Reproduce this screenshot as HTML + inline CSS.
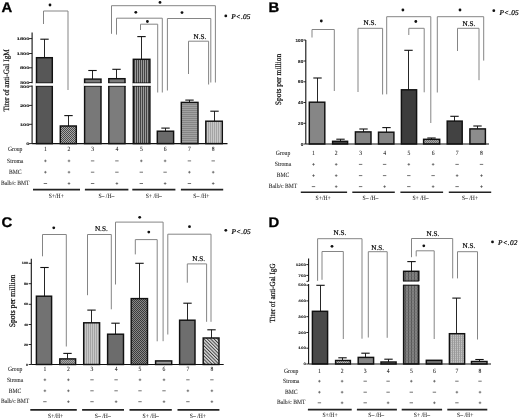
<!DOCTYPE html>
<html><head><meta charset="utf-8"><style>
html,body{margin:0;padding:0;background:#fff;}
body{width:520px;height:419px;overflow:hidden;}
svg{display:block;filter:grayscale(1) blur(0.45px);text-rendering:geometricPrecision;}

</style></head><body>
<svg width="520" height="419" viewBox="0 0 520 419">
<rect width="520" height="419" fill="#fff"/>

<defs>
 <pattern id="chk" width="2" height="2" patternUnits="userSpaceOnUse">
  <rect width="2" height="2" fill="#a8a8a8"/><rect width="1" height="1" fill="#4a4a4a"/><rect x="1" y="1" width="1" height="1" fill="#4a4a4a"/>
 </pattern>
 <pattern id="chkL" width="2" height="2" patternUnits="userSpaceOnUse">
  <rect width="2" height="2" fill="#a6a6a6"/><rect width="1" height="1" fill="#707070"/><rect x="1" y="1" width="1" height="1" fill="#707070"/>
 </pattern>
 <pattern id="chkM" width="2" height="2" patternUnits="userSpaceOnUse">
  <rect width="2" height="2" fill="#a8a8a8"/><rect width="1" height="1" fill="#707070"/><rect x="1" y="1" width="1" height="1" fill="#707070"/>
 </pattern>
 <pattern id="chkL2" width="2" height="2" patternUnits="userSpaceOnUse">
  <rect width="2" height="2" fill="#bcbcbc"/><rect width="1" height="1" fill="#7a7a7a"/><rect x="1" y="1" width="1" height="1" fill="#7a7a7a"/>
 </pattern>
 <pattern id="chkD" width="2" height="2" patternUnits="userSpaceOnUse">
  <rect width="2" height="2" fill="#888"/><rect width="1" height="1" fill="#3a3a3a"/><rect x="1" y="1" width="1" height="1" fill="#3a3a3a"/>
 </pattern>
 <pattern id="vstrD" width="2" height="2" patternUnits="userSpaceOnUse">
  <rect width="2" height="2" fill="#9a9a9a"/><rect width="1" height="2" fill="#444"/>
 </pattern>
 <pattern id="vstrL" width="2" height="2" patternUnits="userSpaceOnUse">
  <rect width="2" height="2" fill="#c8c8c8"/><rect width="1" height="2" fill="#a4a4a4"/>
 </pattern>
 <pattern id="hstr" width="2" height="2" patternUnits="userSpaceOnUse">
  <rect width="2" height="2" fill="#a2a2a2"/><rect width="2" height="1" fill="#868686"/>
 </pattern>
 <pattern id="diag" width="2.4" height="2.4" patternUnits="userSpaceOnUse" patternTransform="rotate(-45)">
  <rect width="2.4" height="2.4" fill="#dedede"/><rect width="1.0" height="2.4" fill="#404040"/>
 </pattern>
 <pattern id="gridD" width="3" height="3" patternUnits="userSpaceOnUse">
  <rect width="3" height="3" fill="#808080"/><rect width="1" height="3" fill="#585858"/><rect width="3" height="0.5" fill="#6e6e6e"/>
 </pattern>
 <pattern id="gridL" width="2" height="2" patternUnits="userSpaceOnUse">
  <rect width="2" height="2" fill="#c2c2c2"/><rect width="1" height="2" fill="#9a9a9a"/><rect width="2" height="0.5" fill="#9a9a9a"/>
 </pattern>
</defs>

<text x="0" y="0" font-family="Liberation Sans" font-size="14.0" font-weight="bold" fill="#000" stroke="#000" stroke-width="0.3" transform="translate(1.6,11.6) scale(1.06,1)">A</text>
<polyline points="43.5,24 43.5,11 68,11 68,90" fill="none" stroke="#858585" stroke-width="1.0"/>
<circle cx="50" cy="5" r="1.4" fill="#111"/>
<polyline points="111.5,33.8 111.5,5.7 215.4,5.7 215.4,82.5" fill="none" stroke="#858585" stroke-width="1.0"/>
<circle cx="160" cy="2.4" r="1.4" fill="#111"/>
<polyline points="116.5,34.6 116.5,18.2 162.3,18.2 162.3,92.5" fill="none" stroke="#858585" stroke-width="1.0"/>
<circle cx="135.8" cy="12.3" r="1.4" fill="#111"/>
<polyline points="140.5,30 140.5,24.2 157.7,24.2 157.7,92.5" fill="none" stroke="#858585" stroke-width="1.0"/>
<circle cx="147.4" cy="21.5" r="1.4" fill="#111"/>
<polyline points="167.4,90.5 167.4,18.5 210.8,18.5 210.8,82.5" fill="none" stroke="#858585" stroke-width="1.0"/>
<circle cx="182" cy="12.6" r="1.4" fill="#111"/>
<polyline points="188.5,74 188.5,41.2 208.6,41.2 208.6,84.5" fill="none" stroke="#858585" stroke-width="1.0"/>
<text x="200" y="38.8" font-family="Liberation Serif" font-size="7.2" text-anchor="middle" font-weight="normal" font-style="normal" fill="#000" stroke="#000" stroke-width="0.2" >N.S.</text>
<circle cx="225.8" cy="15.9" r="1.4" fill="#111"/>
<text x="231.2" y="19.4" font-family="Liberation Serif" font-size="7.3" text-anchor="start" font-weight="normal" font-style="italic" fill="#000" stroke="#000" stroke-width="0.2" letter-spacing="0.2">P&lt;.05</text>
<line x1="44.5" y1="39.2" x2="44.5" y2="57.7" stroke="#1a1a1a" stroke-width="0.95"/>
<line x1="40.3" y1="39.2" x2="48.7" y2="39.2" stroke="#111" stroke-width="1.1"/>
<rect x="36.5" y="57.7" width="15.799999999999997" height="85.89999999999999" fill="#575757" stroke="#111" stroke-width="1.45"/>
<line x1="68.5" y1="115.6" x2="68.5" y2="126.0" stroke="#1a1a1a" stroke-width="0.95"/>
<line x1="64.3" y1="115.6" x2="72.7" y2="115.6" stroke="#111" stroke-width="1.1"/>
<rect x="60.3" y="126.0" width="16.0" height="17.599999999999994" fill="url(#chk)" stroke="#111" stroke-width="1.45"/>
<line x1="92.5" y1="70.5" x2="92.5" y2="79.1" stroke="#1a1a1a" stroke-width="0.95"/>
<line x1="88.3" y1="70.5" x2="96.7" y2="70.5" stroke="#111" stroke-width="1.1"/>
<rect x="84.6" y="79.1" width="16.400000000000006" height="64.5" fill="#787878" stroke="#111" stroke-width="1.45"/>
<line x1="116.5" y1="69.3" x2="116.5" y2="78.7" stroke="#1a1a1a" stroke-width="0.95"/>
<line x1="112.3" y1="69.3" x2="120.7" y2="69.3" stroke="#111" stroke-width="1.1"/>
<rect x="108.8" y="78.7" width="16.200000000000003" height="64.89999999999999" fill="#7c7c7c" stroke="#111" stroke-width="1.45"/>
<line x1="141.5" y1="36.6" x2="141.5" y2="59.3" stroke="#1a1a1a" stroke-width="0.95"/>
<line x1="137.3" y1="36.6" x2="145.7" y2="36.6" stroke="#111" stroke-width="1.1"/>
<rect x="133.3" y="59.3" width="16.599999999999994" height="84.3" fill="url(#vstrD)" stroke="#111" stroke-width="1.45"/>
<line x1="165.5" y1="128.1" x2="165.5" y2="131.2" stroke="#1a1a1a" stroke-width="0.95"/>
<line x1="161.3" y1="128.1" x2="169.7" y2="128.1" stroke="#111" stroke-width="1.1"/>
<rect x="157.3" y="131.2" width="16.299999999999983" height="12.400000000000006" fill="#6a6a6a" stroke="#111" stroke-width="1.45"/>
<line x1="189.5" y1="100.1" x2="189.5" y2="102.4" stroke="#1a1a1a" stroke-width="0.95"/>
<line x1="185.3" y1="100.1" x2="193.7" y2="100.1" stroke="#111" stroke-width="1.1"/>
<rect x="181.3" y="102.4" width="16.69999999999999" height="41.19999999999999" fill="url(#hstr)" stroke="#111" stroke-width="1.45"/>
<line x1="214.5" y1="111.2" x2="214.5" y2="121.2" stroke="#1a1a1a" stroke-width="0.95"/>
<line x1="210.3" y1="111.2" x2="218.7" y2="111.2" stroke="#111" stroke-width="1.1"/>
<rect x="205.8" y="121.2" width="16.5" height="22.39999999999999" fill="url(#vstrL)" stroke="#111" stroke-width="1.45"/>
<rect x="35.5" y="83.0" width="17.799999999999997" height="3.0" fill="#fff"/>
<line x1="35.9" y1="82.8" x2="52.9" y2="82.8" stroke="#111" stroke-width="0.8"/>
<line x1="35.9" y1="86.3" x2="52.9" y2="86.3" stroke="#111" stroke-width="0.8"/>
<rect x="83.6" y="83.0" width="18.400000000000006" height="3.0" fill="#fff"/>
<line x1="84.0" y1="82.8" x2="101.6" y2="82.8" stroke="#111" stroke-width="0.8"/>
<line x1="84.0" y1="86.3" x2="101.6" y2="86.3" stroke="#111" stroke-width="0.8"/>
<rect x="107.8" y="83.0" width="18.200000000000003" height="3.0" fill="#fff"/>
<line x1="108.2" y1="82.8" x2="125.6" y2="82.8" stroke="#111" stroke-width="0.8"/>
<line x1="108.2" y1="86.3" x2="125.6" y2="86.3" stroke="#111" stroke-width="0.8"/>
<rect x="132.3" y="83.0" width="18.599999999999994" height="3.0" fill="#fff"/>
<line x1="132.70000000000002" y1="82.8" x2="150.5" y2="82.8" stroke="#111" stroke-width="0.8"/>
<line x1="132.70000000000002" y1="86.3" x2="150.5" y2="86.3" stroke="#111" stroke-width="0.8"/>
<line x1="32.1" y1="32.6" x2="32.1" y2="83.2" stroke="#111" stroke-width="1.1"/>
<line x1="32.1" y1="85.6" x2="32.1" y2="143.6" stroke="#111" stroke-width="1.1"/>
<line x1="29.1" y1="38.6" x2="32.1" y2="38.6" stroke="#111" stroke-width="0.9"/>
<text x="0" y="0" font-family="Liberation Sans" font-size="4.6" font-weight="bold" text-anchor="end" fill="#222" stroke="#222" stroke-width="0.12" transform="translate(29.50,39.92) scale(1.25,0.8)">1800</text>
<line x1="29.1" y1="53.5" x2="32.1" y2="53.5" stroke="#111" stroke-width="0.9"/>
<text x="0" y="0" font-family="Liberation Sans" font-size="4.6" font-weight="bold" text-anchor="end" fill="#222" stroke="#222" stroke-width="0.12" transform="translate(29.50,54.82) scale(1.25,0.8)">1300</text>
<line x1="29.1" y1="67.8" x2="32.1" y2="67.8" stroke="#111" stroke-width="0.9"/>
<text x="0" y="0" font-family="Liberation Sans" font-size="4.6" font-weight="bold" text-anchor="end" fill="#222" stroke="#222" stroke-width="0.12" transform="translate(29.50,69.12) scale(1.25,0.8)">800</text>
<line x1="29.1" y1="82.5" x2="32.1" y2="82.5" stroke="#111" stroke-width="0.9"/>
<text x="0" y="0" font-family="Liberation Sans" font-size="4.6" font-weight="bold" text-anchor="end" fill="#222" stroke="#222" stroke-width="0.12" transform="translate(29.50,83.82) scale(1.25,0.8)">300</text>
<line x1="29.1" y1="86.2" x2="32.1" y2="86.2" stroke="#111" stroke-width="0.9"/>
<text x="0" y="0" font-family="Liberation Sans" font-size="4.6" font-weight="bold" text-anchor="end" fill="#222" stroke="#222" stroke-width="0.12" transform="translate(29.50,87.52) scale(1.25,0.8)">300</text>
<line x1="29.1" y1="105.4" x2="32.1" y2="105.4" stroke="#111" stroke-width="0.9"/>
<text x="0" y="0" font-family="Liberation Sans" font-size="4.6" font-weight="bold" text-anchor="end" fill="#222" stroke="#222" stroke-width="0.12" transform="translate(29.50,106.72) scale(1.25,0.8)">200</text>
<line x1="29.1" y1="124.3" x2="32.1" y2="124.3" stroke="#111" stroke-width="0.9"/>
<text x="0" y="0" font-family="Liberation Sans" font-size="4.6" font-weight="bold" text-anchor="end" fill="#222" stroke="#222" stroke-width="0.12" transform="translate(29.50,125.62) scale(1.25,0.8)">100</text>
<line x1="29.1" y1="143.6" x2="32.1" y2="143.6" stroke="#111" stroke-width="0.9"/>
<text x="0" y="0" font-family="Liberation Sans" font-size="4.6" font-weight="bold" text-anchor="end" fill="#222" stroke="#222" stroke-width="0.12" transform="translate(29.50,144.92) scale(1.25,0.8)">0</text>
<line x1="32.1" y1="143.6" x2="227.5" y2="143.6" stroke="#111" stroke-width="1.2"/>
<text x="0" y="0" font-family="Liberation Serif" font-size="7.35" text-anchor="middle" fill="#111" stroke="#111" stroke-width="0.2" transform="translate(8.8,80.3) rotate(-90) scale(1,1.1)">Titer of anti-Gal IgM</text>
<text x="0" y="0" transform="translate(15.2,151.29999999999998) scale(0.87,1)" font-family="Liberation Serif" font-size="6.5" text-anchor="middle" font-weight="normal" font-style="normal" fill="#1a1a1a" stroke="#1a1a1a" stroke-width="0.06" >Group</text>
<text x="0" y="0" transform="translate(15.2,162.6) scale(0.87,1)" font-family="Liberation Serif" font-size="6.5" text-anchor="middle" font-weight="normal" font-style="normal" fill="#1a1a1a" stroke="#1a1a1a" stroke-width="0.06" >Stroma</text>
<text x="0" y="0" transform="translate(15.2,173.79999999999998) scale(0.87,1)" font-family="Liberation Serif" font-size="6.5" text-anchor="middle" font-weight="normal" font-style="normal" fill="#1a1a1a" stroke="#1a1a1a" stroke-width="0.06" >BMC</text>
<text x="0" y="0" transform="translate(15.2,184.7) scale(0.87,1)" font-family="Liberation Serif" font-size="6.5" text-anchor="middle" font-weight="normal" font-style="normal" fill="#1a1a1a" stroke="#1a1a1a" stroke-width="0.06" >Balb/c BMT</text>
<text x="0" y="0" transform="translate(45.4,151.29999999999998) scale(0.87,1)" font-family="Liberation Serif" font-size="6.5" text-anchor="middle" font-weight="normal" font-style="normal" fill="#1a1a1a" stroke="#1a1a1a" stroke-width="0.06" >1</text>
<text x="0" y="0" transform="translate(69.0,151.29999999999998) scale(0.87,1)" font-family="Liberation Serif" font-size="6.5" text-anchor="middle" font-weight="normal" font-style="normal" fill="#1a1a1a" stroke="#1a1a1a" stroke-width="0.06" >2</text>
<text x="0" y="0" transform="translate(92.6,151.29999999999998) scale(0.87,1)" font-family="Liberation Serif" font-size="6.5" text-anchor="middle" font-weight="normal" font-style="normal" fill="#1a1a1a" stroke="#1a1a1a" stroke-width="0.06" >3</text>
<text x="0" y="0" transform="translate(116.9,151.29999999999998) scale(0.87,1)" font-family="Liberation Serif" font-size="6.5" text-anchor="middle" font-weight="normal" font-style="normal" fill="#1a1a1a" stroke="#1a1a1a" stroke-width="0.06" >4</text>
<text x="0" y="0" transform="translate(141.3,151.29999999999998) scale(0.87,1)" font-family="Liberation Serif" font-size="6.5" text-anchor="middle" font-weight="normal" font-style="normal" fill="#1a1a1a" stroke="#1a1a1a" stroke-width="0.06" >5</text>
<text x="0" y="0" transform="translate(165.1,151.29999999999998) scale(0.87,1)" font-family="Liberation Serif" font-size="6.5" text-anchor="middle" font-weight="normal" font-style="normal" fill="#1a1a1a" stroke="#1a1a1a" stroke-width="0.06" >6</text>
<text x="0" y="0" transform="translate(189.4,151.29999999999998) scale(0.87,1)" font-family="Liberation Serif" font-size="6.5" text-anchor="middle" font-weight="normal" font-style="normal" fill="#1a1a1a" stroke="#1a1a1a" stroke-width="0.06" >7</text>
<text x="0" y="0" transform="translate(213.2,151.29999999999998) scale(0.87,1)" font-family="Liberation Serif" font-size="6.5" text-anchor="middle" font-weight="normal" font-style="normal" fill="#1a1a1a" stroke="#1a1a1a" stroke-width="0.06" >8</text>
<line x1="44.1" y1="160.9" x2="46.699999999999996" y2="160.9" stroke="#444" stroke-width="0.65"/>
<line x1="45.4" y1="159.6" x2="45.4" y2="162.20000000000002" stroke="#444" stroke-width="0.65"/>
<line x1="67.7" y1="160.9" x2="70.3" y2="160.9" stroke="#444" stroke-width="0.65"/>
<line x1="69.0" y1="159.6" x2="69.0" y2="162.20000000000002" stroke="#444" stroke-width="0.65"/>
<line x1="90.89999999999999" y1="160.9" x2="94.3" y2="160.9" stroke="#444" stroke-width="0.75"/>
<line x1="115.2" y1="160.9" x2="118.60000000000001" y2="160.9" stroke="#444" stroke-width="0.75"/>
<line x1="140.0" y1="160.9" x2="142.60000000000002" y2="160.9" stroke="#444" stroke-width="0.65"/>
<line x1="141.3" y1="159.6" x2="141.3" y2="162.20000000000002" stroke="#444" stroke-width="0.65"/>
<line x1="163.79999999999998" y1="160.9" x2="166.4" y2="160.9" stroke="#444" stroke-width="0.65"/>
<line x1="165.1" y1="159.6" x2="165.1" y2="162.20000000000002" stroke="#444" stroke-width="0.65"/>
<line x1="187.70000000000002" y1="160.9" x2="191.1" y2="160.9" stroke="#444" stroke-width="0.75"/>
<line x1="211.5" y1="160.9" x2="214.89999999999998" y2="160.9" stroke="#444" stroke-width="0.75"/>
<line x1="44.1" y1="172.2" x2="46.699999999999996" y2="172.2" stroke="#444" stroke-width="0.65"/>
<line x1="45.4" y1="170.89999999999998" x2="45.4" y2="173.5" stroke="#444" stroke-width="0.65"/>
<line x1="67.7" y1="172.2" x2="70.3" y2="172.2" stroke="#444" stroke-width="0.65"/>
<line x1="69.0" y1="170.89999999999998" x2="69.0" y2="173.5" stroke="#444" stroke-width="0.65"/>
<line x1="90.89999999999999" y1="172.2" x2="94.3" y2="172.2" stroke="#444" stroke-width="0.75"/>
<line x1="115.2" y1="172.2" x2="118.60000000000001" y2="172.2" stroke="#444" stroke-width="0.75"/>
<line x1="139.60000000000002" y1="172.2" x2="143.0" y2="172.2" stroke="#444" stroke-width="0.75"/>
<line x1="163.4" y1="172.2" x2="166.79999999999998" y2="172.2" stroke="#444" stroke-width="0.75"/>
<line x1="188.1" y1="172.2" x2="190.70000000000002" y2="172.2" stroke="#444" stroke-width="0.65"/>
<line x1="189.4" y1="170.89999999999998" x2="189.4" y2="173.5" stroke="#444" stroke-width="0.65"/>
<line x1="211.89999999999998" y1="172.2" x2="214.5" y2="172.2" stroke="#444" stroke-width="0.65"/>
<line x1="213.2" y1="170.89999999999998" x2="213.2" y2="173.5" stroke="#444" stroke-width="0.65"/>
<line x1="43.699999999999996" y1="183.5" x2="47.1" y2="183.5" stroke="#444" stroke-width="0.75"/>
<line x1="67.7" y1="183.5" x2="70.3" y2="183.5" stroke="#444" stroke-width="0.65"/>
<line x1="69.0" y1="182.2" x2="69.0" y2="184.8" stroke="#444" stroke-width="0.65"/>
<line x1="90.89999999999999" y1="183.5" x2="94.3" y2="183.5" stroke="#444" stroke-width="0.75"/>
<line x1="115.60000000000001" y1="183.5" x2="118.2" y2="183.5" stroke="#444" stroke-width="0.65"/>
<line x1="116.9" y1="182.2" x2="116.9" y2="184.8" stroke="#444" stroke-width="0.65"/>
<line x1="139.60000000000002" y1="183.5" x2="143.0" y2="183.5" stroke="#444" stroke-width="0.75"/>
<line x1="163.79999999999998" y1="183.5" x2="166.4" y2="183.5" stroke="#444" stroke-width="0.65"/>
<line x1="165.1" y1="182.2" x2="165.1" y2="184.8" stroke="#444" stroke-width="0.65"/>
<line x1="187.70000000000002" y1="183.5" x2="191.1" y2="183.5" stroke="#444" stroke-width="0.75"/>
<line x1="211.89999999999998" y1="183.5" x2="214.5" y2="183.5" stroke="#444" stroke-width="0.65"/>
<line x1="213.2" y1="182.2" x2="213.2" y2="184.8" stroke="#444" stroke-width="0.65"/>
<line x1="33.0" y1="189.6" x2="80.0" y2="189.6" stroke="#222" stroke-width="1.6"/>
<text x="0" y="0" transform="translate(56.3,197.5) scale(0.87,1)" font-family="Liberation Serif" font-size="6.5" text-anchor="middle" font-weight="normal" font-style="normal" fill="#1a1a1a" stroke="#1a1a1a" stroke-width="0.06" >S+/H+</text>
<line x1="84.9" y1="189.6" x2="128.4" y2="189.6" stroke="#222" stroke-width="1.6"/>
<text x="0" y="0" transform="translate(106.4,197.5) scale(0.87,1)" font-family="Liberation Serif" font-size="6.5" text-anchor="middle" font-weight="normal" font-style="normal" fill="#1a1a1a" stroke="#1a1a1a" stroke-width="0.06" >S– /H–</text>
<line x1="132.3" y1="189.6" x2="175.4" y2="189.6" stroke="#222" stroke-width="1.6"/>
<text x="0" y="0" transform="translate(153.8,197.5) scale(0.87,1)" font-family="Liberation Serif" font-size="6.5" text-anchor="middle" font-weight="normal" font-style="normal" fill="#1a1a1a" stroke="#1a1a1a" stroke-width="0.06" >S+ /H–</text>
<line x1="180.9" y1="189.6" x2="223.2" y2="189.6" stroke="#222" stroke-width="1.6"/>
<text x="0" y="0" transform="translate(201.4,197.5) scale(0.87,1)" font-family="Liberation Serif" font-size="6.5" text-anchor="middle" font-weight="normal" font-style="normal" fill="#1a1a1a" stroke="#1a1a1a" stroke-width="0.06" >S– /H+</text>
<text x="0" y="0" font-family="Liberation Sans" font-size="14.0" font-weight="bold" fill="#000" stroke="#000" stroke-width="0.3" transform="translate(268.6,11.6) scale(1.06,1)">B</text>
<polyline points="312,37.5 312,29.5 334.3,29.5 334.3,91" fill="none" stroke="#858585" stroke-width="1.0"/>
<circle cx="321.3" cy="21" r="1.4" fill="#111"/>
<polyline points="358,92 358,28.3 382.6,28.3 382.6,94.5" fill="none" stroke="#858585" stroke-width="1.0"/>
<text x="370" y="25" font-family="Liberation Serif" font-size="7.2" text-anchor="middle" font-weight="normal" font-style="normal" fill="#000" stroke="#000" stroke-width="0.2" >N.S.</text>
<polyline points="386.7,94.3 386.7,16.7 430.8,16.7 430.8,123" fill="none" stroke="#858585" stroke-width="1.0"/>
<circle cx="402.9" cy="10" r="1.4" fill="#111"/>
<polyline points="408.8,35 408.8,28.3 424.2,28.3 424.2,92.3" fill="none" stroke="#858585" stroke-width="1.0"/>
<circle cx="415.8" cy="21.5" r="1.4" fill="#111"/>
<polyline points="437.3,92.5 437.3,16.7 483.7,16.7 483.7,60.6" fill="none" stroke="#858585" stroke-width="1.0"/>
<circle cx="460" cy="10" r="1.4" fill="#111"/>
<polyline points="457.5,51 457.5,28.3 479,28.3 479,80.2" fill="none" stroke="#858585" stroke-width="1.0"/>
<text x="469" y="26.3" font-family="Liberation Serif" font-size="7.2" text-anchor="middle" font-weight="normal" font-style="normal" fill="#000" stroke="#000" stroke-width="0.2" >N.S.</text>
<circle cx="493.8" cy="10.7" r="1.4" fill="#111"/>
<text x="499.4" y="14.9" font-family="Liberation Serif" font-size="7.3" text-anchor="start" font-weight="normal" font-style="italic" fill="#000" stroke="#000" stroke-width="0.2" letter-spacing="0.2">P&lt;.05</text>
<line x1="317.5" y1="78.0" x2="317.5" y2="102.2" stroke="#1a1a1a" stroke-width="0.95"/>
<line x1="313.3" y1="78.0" x2="321.7" y2="78.0" stroke="#111" stroke-width="1.1"/>
<rect x="309.3" y="102.2" width="15.5" height="41.8" fill="#868686" stroke="#111" stroke-width="1.45"/>
<line x1="340.5" y1="139.2" x2="340.5" y2="141.3" stroke="#1a1a1a" stroke-width="0.95"/>
<line x1="336.3" y1="139.2" x2="344.7" y2="139.2" stroke="#111" stroke-width="1.1"/>
<rect x="332.6" y="141.3" width="15.0" height="2.6999999999999886" fill="#444" stroke="#111" stroke-width="1.45"/>
<line x1="363.5" y1="129.0" x2="363.5" y2="131.9" stroke="#1a1a1a" stroke-width="0.95"/>
<line x1="359.3" y1="129.0" x2="367.7" y2="129.0" stroke="#111" stroke-width="1.1"/>
<rect x="355.4" y="131.9" width="15.600000000000023" height="12.099999999999994" fill="#848484" stroke="#111" stroke-width="1.45"/>
<line x1="386.5" y1="127.6" x2="386.5" y2="132.2" stroke="#1a1a1a" stroke-width="0.95"/>
<line x1="382.3" y1="127.6" x2="390.7" y2="127.6" stroke="#111" stroke-width="1.1"/>
<rect x="378.5" y="132.2" width="15.399999999999977" height="11.800000000000011" fill="#848484" stroke="#111" stroke-width="1.45"/>
<line x1="408.5" y1="50.3" x2="408.5" y2="89.8" stroke="#1a1a1a" stroke-width="0.95"/>
<line x1="404.3" y1="50.3" x2="412.7" y2="50.3" stroke="#111" stroke-width="1.1"/>
<rect x="401.4" y="89.8" width="15.200000000000045" height="54.2" fill="#3c3c3c" stroke="#111" stroke-width="1.45"/>
<line x1="431.5" y1="138.0" x2="431.5" y2="139.3" stroke="#1a1a1a" stroke-width="0.95"/>
<line x1="427.3" y1="138.0" x2="435.7" y2="138.0" stroke="#111" stroke-width="1.1"/>
<rect x="423.6" y="139.3" width="16.099999999999966" height="4.699999999999989" fill="url(#chkL)" stroke="#111" stroke-width="1.45"/>
<line x1="454.5" y1="116.3" x2="454.5" y2="121.1" stroke="#1a1a1a" stroke-width="0.95"/>
<line x1="450.3" y1="116.3" x2="458.7" y2="116.3" stroke="#111" stroke-width="1.1"/>
<rect x="447.2" y="121.1" width="15.0" height="22.900000000000006" fill="#424242" stroke="#111" stroke-width="1.45"/>
<line x1="477.5" y1="126.0" x2="477.5" y2="128.9" stroke="#1a1a1a" stroke-width="0.95"/>
<line x1="473.3" y1="126.0" x2="481.7" y2="126.0" stroke="#111" stroke-width="1.1"/>
<rect x="469.9" y="128.9" width="15.5" height="15.099999999999994" fill="#8c8c8c" stroke="#111" stroke-width="1.45"/>
<line x1="305.8" y1="40" x2="305.8" y2="144.0" stroke="#111" stroke-width="1.1"/>
<line x1="303.5" y1="40" x2="305.8" y2="40" stroke="#111" stroke-width="0.9"/>
<text x="0" y="0" font-family="Liberation Sans" font-size="4.6" font-weight="bold" text-anchor="end" fill="#222" stroke="#222" stroke-width="0.12" transform="translate(303.20,41.56) scale(1.0,0.95)">100</text>
<line x1="303.5" y1="61.0" x2="305.8" y2="61.0" stroke="#111" stroke-width="0.9"/>
<text x="0" y="0" font-family="Liberation Sans" font-size="4.6" font-weight="bold" text-anchor="end" fill="#222" stroke="#222" stroke-width="0.12" transform="translate(303.20,62.56) scale(1.0,0.95)">80</text>
<line x1="303.5" y1="81.8" x2="305.8" y2="81.8" stroke="#111" stroke-width="0.9"/>
<text x="0" y="0" font-family="Liberation Sans" font-size="4.6" font-weight="bold" text-anchor="end" fill="#222" stroke="#222" stroke-width="0.12" transform="translate(303.20,83.36) scale(1.0,0.95)">60</text>
<line x1="303.5" y1="102.5" x2="305.8" y2="102.5" stroke="#111" stroke-width="0.9"/>
<text x="0" y="0" font-family="Liberation Sans" font-size="4.6" font-weight="bold" text-anchor="end" fill="#222" stroke="#222" stroke-width="0.12" transform="translate(303.20,104.06) scale(1.0,0.95)">40</text>
<line x1="303.5" y1="123.3" x2="305.8" y2="123.3" stroke="#111" stroke-width="0.9"/>
<text x="0" y="0" font-family="Liberation Sans" font-size="4.6" font-weight="bold" text-anchor="end" fill="#222" stroke="#222" stroke-width="0.12" transform="translate(303.20,124.86) scale(1.0,0.95)">20</text>
<line x1="303.5" y1="144" x2="305.8" y2="144" stroke="#111" stroke-width="0.9"/>
<text x="0" y="0" font-family="Liberation Sans" font-size="4.6" font-weight="bold" text-anchor="end" fill="#222" stroke="#222" stroke-width="0.12" transform="translate(303.20,145.56) scale(1.0,0.95)">0</text>
<line x1="305.8" y1="144.0" x2="489" y2="144.0" stroke="#111" stroke-width="1.2"/>
<text x="0" y="0" font-family="Liberation Serif" font-size="7.45" text-anchor="middle" fill="#111" stroke="#111" stroke-width="0.2" transform="translate(280.6,79.5) rotate(-90) scale(1,1.1)">Spots per million</text>
<text x="0" y="0" transform="translate(283.0,154.79999999999998) scale(0.87,1)" font-family="Liberation Serif" font-size="6.5" text-anchor="middle" font-weight="normal" font-style="normal" fill="#1a1a1a" stroke="#1a1a1a" stroke-width="0.06" >Group</text>
<text x="0" y="0" transform="translate(283.0,166.1) scale(0.87,1)" font-family="Liberation Serif" font-size="6.5" text-anchor="middle" font-weight="normal" font-style="normal" fill="#1a1a1a" stroke="#1a1a1a" stroke-width="0.06" >Stroma</text>
<text x="0" y="0" transform="translate(283.0,177.29999999999998) scale(0.87,1)" font-family="Liberation Serif" font-size="6.5" text-anchor="middle" font-weight="normal" font-style="normal" fill="#1a1a1a" stroke="#1a1a1a" stroke-width="0.06" >BMC</text>
<text x="0" y="0" transform="translate(283.0,188.1) scale(0.87,1)" font-family="Liberation Serif" font-size="6.5" text-anchor="middle" font-weight="normal" font-style="normal" fill="#1a1a1a" stroke="#1a1a1a" stroke-width="0.06" >Balb/c BMT</text>
<text x="0" y="0" transform="translate(313.5,154.79999999999998) scale(0.87,1)" font-family="Liberation Serif" font-size="6.5" text-anchor="middle" font-weight="normal" font-style="normal" fill="#1a1a1a" stroke="#1a1a1a" stroke-width="0.06" >1</text>
<text x="0" y="0" transform="translate(336.2,154.79999999999998) scale(0.87,1)" font-family="Liberation Serif" font-size="6.5" text-anchor="middle" font-weight="normal" font-style="normal" fill="#1a1a1a" stroke="#1a1a1a" stroke-width="0.06" >2</text>
<text x="0" y="0" transform="translate(360.6,154.79999999999998) scale(0.87,1)" font-family="Liberation Serif" font-size="6.5" text-anchor="middle" font-weight="normal" font-style="normal" fill="#1a1a1a" stroke="#1a1a1a" stroke-width="0.06" >3</text>
<text x="0" y="0" transform="translate(384.6,154.79999999999998) scale(0.87,1)" font-family="Liberation Serif" font-size="6.5" text-anchor="middle" font-weight="normal" font-style="normal" fill="#1a1a1a" stroke="#1a1a1a" stroke-width="0.06" >4</text>
<text x="0" y="0" transform="translate(408.8,154.79999999999998) scale(0.87,1)" font-family="Liberation Serif" font-size="6.5" text-anchor="middle" font-weight="normal" font-style="normal" fill="#1a1a1a" stroke="#1a1a1a" stroke-width="0.06" >5</text>
<text x="0" y="0" transform="translate(433.1,154.79999999999998) scale(0.87,1)" font-family="Liberation Serif" font-size="6.5" text-anchor="middle" font-weight="normal" font-style="normal" fill="#1a1a1a" stroke="#1a1a1a" stroke-width="0.06" >6</text>
<text x="0" y="0" transform="translate(457.1,154.79999999999998) scale(0.87,1)" font-family="Liberation Serif" font-size="6.5" text-anchor="middle" font-weight="normal" font-style="normal" fill="#1a1a1a" stroke="#1a1a1a" stroke-width="0.06" >7</text>
<text x="0" y="0" transform="translate(481.5,154.79999999999998) scale(0.87,1)" font-family="Liberation Serif" font-size="6.5" text-anchor="middle" font-weight="normal" font-style="normal" fill="#1a1a1a" stroke="#1a1a1a" stroke-width="0.06" >8</text>
<line x1="312.2" y1="164.4" x2="314.8" y2="164.4" stroke="#444" stroke-width="0.65"/>
<line x1="313.5" y1="163.1" x2="313.5" y2="165.70000000000002" stroke="#444" stroke-width="0.65"/>
<line x1="334.9" y1="164.4" x2="337.5" y2="164.4" stroke="#444" stroke-width="0.65"/>
<line x1="336.2" y1="163.1" x2="336.2" y2="165.70000000000002" stroke="#444" stroke-width="0.65"/>
<line x1="358.90000000000003" y1="164.4" x2="362.3" y2="164.4" stroke="#444" stroke-width="0.75"/>
<line x1="382.90000000000003" y1="164.4" x2="386.3" y2="164.4" stroke="#444" stroke-width="0.75"/>
<line x1="407.5" y1="164.4" x2="410.1" y2="164.4" stroke="#444" stroke-width="0.65"/>
<line x1="408.8" y1="163.1" x2="408.8" y2="165.70000000000002" stroke="#444" stroke-width="0.65"/>
<line x1="431.8" y1="164.4" x2="434.40000000000003" y2="164.4" stroke="#444" stroke-width="0.65"/>
<line x1="433.1" y1="163.1" x2="433.1" y2="165.70000000000002" stroke="#444" stroke-width="0.65"/>
<line x1="455.40000000000003" y1="164.4" x2="458.8" y2="164.4" stroke="#444" stroke-width="0.75"/>
<line x1="479.8" y1="164.4" x2="483.2" y2="164.4" stroke="#444" stroke-width="0.75"/>
<line x1="312.2" y1="175.6" x2="314.8" y2="175.6" stroke="#444" stroke-width="0.65"/>
<line x1="313.5" y1="174.29999999999998" x2="313.5" y2="176.9" stroke="#444" stroke-width="0.65"/>
<line x1="334.9" y1="175.6" x2="337.5" y2="175.6" stroke="#444" stroke-width="0.65"/>
<line x1="336.2" y1="174.29999999999998" x2="336.2" y2="176.9" stroke="#444" stroke-width="0.65"/>
<line x1="358.90000000000003" y1="175.6" x2="362.3" y2="175.6" stroke="#444" stroke-width="0.75"/>
<line x1="382.90000000000003" y1="175.6" x2="386.3" y2="175.6" stroke="#444" stroke-width="0.75"/>
<line x1="407.1" y1="175.6" x2="410.5" y2="175.6" stroke="#444" stroke-width="0.75"/>
<line x1="431.40000000000003" y1="175.6" x2="434.8" y2="175.6" stroke="#444" stroke-width="0.75"/>
<line x1="455.8" y1="175.6" x2="458.40000000000003" y2="175.6" stroke="#444" stroke-width="0.65"/>
<line x1="457.1" y1="174.29999999999998" x2="457.1" y2="176.9" stroke="#444" stroke-width="0.65"/>
<line x1="480.2" y1="175.6" x2="482.8" y2="175.6" stroke="#444" stroke-width="0.65"/>
<line x1="481.5" y1="174.29999999999998" x2="481.5" y2="176.9" stroke="#444" stroke-width="0.65"/>
<line x1="311.8" y1="186.6" x2="315.2" y2="186.6" stroke="#444" stroke-width="0.75"/>
<line x1="334.9" y1="186.6" x2="337.5" y2="186.6" stroke="#444" stroke-width="0.65"/>
<line x1="336.2" y1="185.29999999999998" x2="336.2" y2="187.9" stroke="#444" stroke-width="0.65"/>
<line x1="358.90000000000003" y1="186.6" x2="362.3" y2="186.6" stroke="#444" stroke-width="0.75"/>
<line x1="383.3" y1="186.6" x2="385.90000000000003" y2="186.6" stroke="#444" stroke-width="0.65"/>
<line x1="384.6" y1="185.29999999999998" x2="384.6" y2="187.9" stroke="#444" stroke-width="0.65"/>
<line x1="407.1" y1="186.6" x2="410.5" y2="186.6" stroke="#444" stroke-width="0.75"/>
<line x1="431.8" y1="186.6" x2="434.40000000000003" y2="186.6" stroke="#444" stroke-width="0.65"/>
<line x1="433.1" y1="185.29999999999998" x2="433.1" y2="187.9" stroke="#444" stroke-width="0.65"/>
<line x1="455.40000000000003" y1="186.6" x2="458.8" y2="186.6" stroke="#444" stroke-width="0.75"/>
<line x1="480.2" y1="186.6" x2="482.8" y2="186.6" stroke="#444" stroke-width="0.65"/>
<line x1="481.5" y1="185.29999999999998" x2="481.5" y2="187.9" stroke="#444" stroke-width="0.65"/>
<line x1="300.8" y1="192.2" x2="347.1" y2="192.2" stroke="#222" stroke-width="1.6"/>
<text x="0" y="0" transform="translate(323.2,199.6) scale(0.87,1)" font-family="Liberation Serif" font-size="6.5" text-anchor="middle" font-weight="normal" font-style="normal" fill="#1a1a1a" stroke="#1a1a1a" stroke-width="0.06" >S+/H+</text>
<line x1="352.3" y1="192.2" x2="394.8" y2="192.2" stroke="#222" stroke-width="1.6"/>
<text x="0" y="0" transform="translate(370.5,199.6) scale(0.87,1)" font-family="Liberation Serif" font-size="6.5" text-anchor="middle" font-weight="normal" font-style="normal" fill="#1a1a1a" stroke="#1a1a1a" stroke-width="0.06" >S– /H–</text>
<line x1="400.4" y1="192.2" x2="443.1" y2="192.2" stroke="#222" stroke-width="1.6"/>
<text x="0" y="0" transform="translate(420.5,199.6) scale(0.87,1)" font-family="Liberation Serif" font-size="6.5" text-anchor="middle" font-weight="normal" font-style="normal" fill="#1a1a1a" stroke="#1a1a1a" stroke-width="0.06" >S+ /H–</text>
<line x1="448.8" y1="192.2" x2="491.2" y2="192.2" stroke="#222" stroke-width="1.6"/>
<text x="0" y="0" transform="translate(470.0,199.6) scale(0.87,1)" font-family="Liberation Serif" font-size="6.5" text-anchor="middle" font-weight="normal" font-style="normal" fill="#1a1a1a" stroke="#1a1a1a" stroke-width="0.06" >S– /H+</text>
<text x="0" y="0" font-family="Liberation Sans" font-size="14.0" font-weight="bold" fill="#000" stroke="#000" stroke-width="0.3" transform="translate(1.4,226.7) scale(1.06,1)">C</text>
<polyline points="42.5,256.3 42.5,234.5 66.3,234.5 66.3,346.5" fill="none" stroke="#858585" stroke-width="1.0"/>
<circle cx="53.75" cy="227.8" r="1.4" fill="#111"/>
<polyline points="87.5,295.2 87.5,234.5 111.3,234.5 111.3,309.3" fill="none" stroke="#858585" stroke-width="1.0"/>
<text x="101.3" y="231.2" font-family="Liberation Serif" font-size="7.2" text-anchor="middle" font-weight="normal" font-style="normal" fill="#000" stroke="#000" stroke-width="0.2" >N.S.</text>
<polyline points="115.5,284.5 115.5,222.1 163.1,222.1 163.1,341.2" fill="none" stroke="#858585" stroke-width="1.0"/>
<circle cx="139.7" cy="217.3" r="1.4" fill="#111"/>
<polyline points="135.3,254.4 135.3,239.6 157.2,239.6 157.2,341.3" fill="none" stroke="#858585" stroke-width="1.0"/>
<circle cx="148.8" cy="232.1" r="1.4" fill="#111"/>
<polyline points="167.8,334.5 167.8,234.2 211.0,234.2 211.0,321.8" fill="none" stroke="#858585" stroke-width="1.0"/>
<circle cx="189.5" cy="226.7" r="1.4" fill="#111"/>
<polyline points="187.3,282.7 187.3,263.9 206.6,263.9 206.6,321.8" fill="none" stroke="#858585" stroke-width="1.0"/>
<text x="198.6" y="260.8" font-family="Liberation Serif" font-size="7.2" text-anchor="middle" font-weight="normal" font-style="normal" fill="#000" stroke="#000" stroke-width="0.2" >N.S.</text>
<circle cx="225.8" cy="230.3" r="1.4" fill="#111"/>
<text x="231.4" y="233.8" font-family="Liberation Serif" font-size="7.3" text-anchor="start" font-weight="normal" font-style="italic" fill="#000" stroke="#000" stroke-width="0.2" letter-spacing="0.2">P&lt;.05</text>
<line x1="44.5" y1="267.5" x2="44.5" y2="296.2" stroke="#1a1a1a" stroke-width="0.95"/>
<line x1="40.3" y1="267.5" x2="48.7" y2="267.5" stroke="#111" stroke-width="1.1"/>
<rect x="36.4" y="296.2" width="15.200000000000003" height="68.30000000000001" fill="#727272" stroke="#111" stroke-width="1.45"/>
<line x1="67.5" y1="353.4" x2="67.5" y2="358.9" stroke="#1a1a1a" stroke-width="0.95"/>
<line x1="63.3" y1="353.4" x2="71.7" y2="353.4" stroke="#111" stroke-width="1.1"/>
<rect x="59.8" y="358.9" width="15.799999999999997" height="5.600000000000023" fill="url(#chkM)" stroke="#111" stroke-width="1.45"/>
<line x1="91.5" y1="310.1" x2="91.5" y2="322.8" stroke="#1a1a1a" stroke-width="0.95"/>
<line x1="87.3" y1="310.1" x2="95.7" y2="310.1" stroke="#111" stroke-width="1.1"/>
<rect x="83.7" y="322.8" width="15.899999999999991" height="41.69999999999999" fill="url(#vstrL)" stroke="#111" stroke-width="1.45"/>
<line x1="115.5" y1="323.2" x2="115.5" y2="334.2" stroke="#1a1a1a" stroke-width="0.95"/>
<line x1="111.3" y1="323.2" x2="119.7" y2="323.2" stroke="#111" stroke-width="1.1"/>
<rect x="107.6" y="334.2" width="15.900000000000006" height="30.30000000000001" fill="#6c6c6c" stroke="#111" stroke-width="1.45"/>
<line x1="139.5" y1="263.3" x2="139.5" y2="298.6" stroke="#1a1a1a" stroke-width="0.95"/>
<line x1="135.3" y1="263.3" x2="143.7" y2="263.3" stroke="#111" stroke-width="1.1"/>
<rect x="131.2" y="298.6" width="16.30000000000001" height="65.89999999999998" fill="url(#chkD)" stroke="#111" stroke-width="1.45"/>
<rect x="155.6" y="360.9" width="16.099999999999994" height="3.6000000000000227" fill="#9c9c9c" stroke="#111" stroke-width="1.45"/>
<line x1="187.5" y1="303.2" x2="187.5" y2="320.2" stroke="#1a1a1a" stroke-width="0.95"/>
<line x1="183.3" y1="303.2" x2="191.7" y2="303.2" stroke="#111" stroke-width="1.1"/>
<rect x="179.6" y="320.2" width="15.400000000000006" height="44.30000000000001" fill="#6e6e6e" stroke="#111" stroke-width="1.45"/>
<line x1="211.5" y1="329.8" x2="211.5" y2="338.0" stroke="#1a1a1a" stroke-width="0.95"/>
<line x1="207.3" y1="329.8" x2="215.7" y2="329.8" stroke="#111" stroke-width="1.1"/>
<rect x="203.2" y="338.0" width="15.800000000000011" height="26.5" fill="url(#diag)" stroke="#111" stroke-width="1.45"/>
<line x1="31.3" y1="258.8" x2="31.3" y2="364.5" stroke="#111" stroke-width="1.1"/>
<line x1="28.7" y1="263.3" x2="31.3" y2="263.3" stroke="#111" stroke-width="0.9"/>
<text x="0" y="0" font-family="Liberation Sans" font-size="4.6" font-weight="bold" text-anchor="end" fill="#222" stroke="#222" stroke-width="0.12" transform="translate(28.30,264.49) scale(0.85,0.72)">100</text>
<line x1="28.7" y1="283.7" x2="31.3" y2="283.7" stroke="#111" stroke-width="0.9"/>
<text x="0" y="0" font-family="Liberation Sans" font-size="4.6" font-weight="bold" text-anchor="end" fill="#222" stroke="#222" stroke-width="0.12" transform="translate(28.30,284.89) scale(0.85,0.72)">80</text>
<line x1="28.7" y1="304.3" x2="31.3" y2="304.3" stroke="#111" stroke-width="0.9"/>
<text x="0" y="0" font-family="Liberation Sans" font-size="4.6" font-weight="bold" text-anchor="end" fill="#222" stroke="#222" stroke-width="0.12" transform="translate(28.30,305.49) scale(0.85,0.72)">60</text>
<line x1="28.7" y1="324.5" x2="31.3" y2="324.5" stroke="#111" stroke-width="0.9"/>
<text x="0" y="0" font-family="Liberation Sans" font-size="4.6" font-weight="bold" text-anchor="end" fill="#222" stroke="#222" stroke-width="0.12" transform="translate(28.30,325.69) scale(0.85,0.72)">40</text>
<line x1="28.7" y1="344.5" x2="31.3" y2="344.5" stroke="#111" stroke-width="0.9"/>
<text x="0" y="0" font-family="Liberation Sans" font-size="4.6" font-weight="bold" text-anchor="end" fill="#222" stroke="#222" stroke-width="0.12" transform="translate(28.30,345.69) scale(0.85,0.72)">20</text>
<line x1="28.7" y1="364.5" x2="31.3" y2="364.5" stroke="#111" stroke-width="0.9"/>
<text x="0" y="0" font-family="Liberation Sans" font-size="4.6" font-weight="bold" text-anchor="end" fill="#222" stroke="#222" stroke-width="0.12" transform="translate(28.30,365.69) scale(0.85,0.72)">0</text>
<line x1="31.3" y1="364.5" x2="223.7" y2="364.5" stroke="#111" stroke-width="1.2"/>
<text x="0" y="0" font-family="Liberation Serif" font-size="7.65" text-anchor="middle" fill="#111" stroke="#111" stroke-width="0.2" transform="translate(15.2,301.0) rotate(-90) scale(1,1.1)">Spots per million</text>
<text x="0" y="0" transform="translate(15.1,370.6) scale(0.87,1)" font-family="Liberation Serif" font-size="6.5" text-anchor="middle" font-weight="normal" font-style="normal" fill="#1a1a1a" stroke="#1a1a1a" stroke-width="0.06" >Group</text>
<text x="0" y="0" transform="translate(15.1,381.5) scale(0.87,1)" font-family="Liberation Serif" font-size="6.5" text-anchor="middle" font-weight="normal" font-style="normal" fill="#1a1a1a" stroke="#1a1a1a" stroke-width="0.06" >Stroma</text>
<text x="0" y="0" transform="translate(15.1,392.5) scale(0.87,1)" font-family="Liberation Serif" font-size="6.5" text-anchor="middle" font-weight="normal" font-style="normal" fill="#1a1a1a" stroke="#1a1a1a" stroke-width="0.06" >BMC</text>
<text x="0" y="0" transform="translate(15.1,403.1) scale(0.87,1)" font-family="Liberation Serif" font-size="6.5" text-anchor="middle" font-weight="normal" font-style="normal" fill="#1a1a1a" stroke="#1a1a1a" stroke-width="0.06" >Balb/c BMT</text>
<text x="0" y="0" transform="translate(44.9,370.6) scale(0.87,1)" font-family="Liberation Serif" font-size="6.5" text-anchor="middle" font-weight="normal" font-style="normal" fill="#1a1a1a" stroke="#1a1a1a" stroke-width="0.06" >1</text>
<text x="0" y="0" transform="translate(68.4,370.6) scale(0.87,1)" font-family="Liberation Serif" font-size="6.5" text-anchor="middle" font-weight="normal" font-style="normal" fill="#1a1a1a" stroke="#1a1a1a" stroke-width="0.06" >2</text>
<text x="0" y="0" transform="translate(92.0,370.6) scale(0.87,1)" font-family="Liberation Serif" font-size="6.5" text-anchor="middle" font-weight="normal" font-style="normal" fill="#1a1a1a" stroke="#1a1a1a" stroke-width="0.06" >3</text>
<text x="0" y="0" transform="translate(116.1,370.6) scale(0.87,1)" font-family="Liberation Serif" font-size="6.5" text-anchor="middle" font-weight="normal" font-style="normal" fill="#1a1a1a" stroke="#1a1a1a" stroke-width="0.06" >4</text>
<text x="0" y="0" transform="translate(140.0,370.6) scale(0.87,1)" font-family="Liberation Serif" font-size="6.5" text-anchor="middle" font-weight="normal" font-style="normal" fill="#1a1a1a" stroke="#1a1a1a" stroke-width="0.06" >5</text>
<text x="0" y="0" transform="translate(164.0,370.6) scale(0.87,1)" font-family="Liberation Serif" font-size="6.5" text-anchor="middle" font-weight="normal" font-style="normal" fill="#1a1a1a" stroke="#1a1a1a" stroke-width="0.06" >6</text>
<text x="0" y="0" transform="translate(187.9,370.6) scale(0.87,1)" font-family="Liberation Serif" font-size="6.5" text-anchor="middle" font-weight="normal" font-style="normal" fill="#1a1a1a" stroke="#1a1a1a" stroke-width="0.06" >7</text>
<text x="0" y="0" transform="translate(211.9,370.6) scale(0.87,1)" font-family="Liberation Serif" font-size="6.5" text-anchor="middle" font-weight="normal" font-style="normal" fill="#1a1a1a" stroke="#1a1a1a" stroke-width="0.06" >8</text>
<line x1="43.6" y1="379.8" x2="46.199999999999996" y2="379.8" stroke="#444" stroke-width="0.65"/>
<line x1="44.9" y1="378.5" x2="44.9" y2="381.1" stroke="#444" stroke-width="0.65"/>
<line x1="67.10000000000001" y1="379.8" x2="69.7" y2="379.8" stroke="#444" stroke-width="0.65"/>
<line x1="68.4" y1="378.5" x2="68.4" y2="381.1" stroke="#444" stroke-width="0.65"/>
<line x1="90.3" y1="379.8" x2="93.7" y2="379.8" stroke="#444" stroke-width="0.75"/>
<line x1="114.39999999999999" y1="379.8" x2="117.8" y2="379.8" stroke="#444" stroke-width="0.75"/>
<line x1="138.7" y1="379.8" x2="141.3" y2="379.8" stroke="#444" stroke-width="0.65"/>
<line x1="140.0" y1="378.5" x2="140.0" y2="381.1" stroke="#444" stroke-width="0.65"/>
<line x1="162.7" y1="379.8" x2="165.3" y2="379.8" stroke="#444" stroke-width="0.65"/>
<line x1="164.0" y1="378.5" x2="164.0" y2="381.1" stroke="#444" stroke-width="0.65"/>
<line x1="186.20000000000002" y1="379.8" x2="189.6" y2="379.8" stroke="#444" stroke-width="0.75"/>
<line x1="210.20000000000002" y1="379.8" x2="213.6" y2="379.8" stroke="#444" stroke-width="0.75"/>
<line x1="43.6" y1="390.8" x2="46.199999999999996" y2="390.8" stroke="#444" stroke-width="0.65"/>
<line x1="44.9" y1="389.5" x2="44.9" y2="392.1" stroke="#444" stroke-width="0.65"/>
<line x1="67.10000000000001" y1="390.8" x2="69.7" y2="390.8" stroke="#444" stroke-width="0.65"/>
<line x1="68.4" y1="389.5" x2="68.4" y2="392.1" stroke="#444" stroke-width="0.65"/>
<line x1="90.3" y1="390.8" x2="93.7" y2="390.8" stroke="#444" stroke-width="0.75"/>
<line x1="114.39999999999999" y1="390.8" x2="117.8" y2="390.8" stroke="#444" stroke-width="0.75"/>
<line x1="138.3" y1="390.8" x2="141.7" y2="390.8" stroke="#444" stroke-width="0.75"/>
<line x1="162.3" y1="390.8" x2="165.7" y2="390.8" stroke="#444" stroke-width="0.75"/>
<line x1="186.6" y1="390.8" x2="189.20000000000002" y2="390.8" stroke="#444" stroke-width="0.65"/>
<line x1="187.9" y1="389.5" x2="187.9" y2="392.1" stroke="#444" stroke-width="0.65"/>
<line x1="210.6" y1="390.8" x2="213.20000000000002" y2="390.8" stroke="#444" stroke-width="0.65"/>
<line x1="211.9" y1="389.5" x2="211.9" y2="392.1" stroke="#444" stroke-width="0.65"/>
<line x1="43.199999999999996" y1="401.7" x2="46.6" y2="401.7" stroke="#444" stroke-width="0.75"/>
<line x1="67.10000000000001" y1="401.7" x2="69.7" y2="401.7" stroke="#444" stroke-width="0.65"/>
<line x1="68.4" y1="400.4" x2="68.4" y2="403.0" stroke="#444" stroke-width="0.65"/>
<line x1="90.3" y1="401.7" x2="93.7" y2="401.7" stroke="#444" stroke-width="0.75"/>
<line x1="114.8" y1="401.7" x2="117.39999999999999" y2="401.7" stroke="#444" stroke-width="0.65"/>
<line x1="116.1" y1="400.4" x2="116.1" y2="403.0" stroke="#444" stroke-width="0.65"/>
<line x1="138.3" y1="401.7" x2="141.7" y2="401.7" stroke="#444" stroke-width="0.75"/>
<line x1="162.7" y1="401.7" x2="165.3" y2="401.7" stroke="#444" stroke-width="0.65"/>
<line x1="164.0" y1="400.4" x2="164.0" y2="403.0" stroke="#444" stroke-width="0.65"/>
<line x1="186.20000000000002" y1="401.7" x2="189.6" y2="401.7" stroke="#444" stroke-width="0.75"/>
<line x1="210.6" y1="401.7" x2="213.20000000000002" y2="401.7" stroke="#444" stroke-width="0.65"/>
<line x1="211.9" y1="400.4" x2="211.9" y2="403.0" stroke="#444" stroke-width="0.65"/>
<line x1="30.3" y1="409.9" x2="76.8" y2="409.9" stroke="#222" stroke-width="1.6"/>
<text x="0" y="0" transform="translate(55.7,418.0) scale(0.87,1)" font-family="Liberation Serif" font-size="6.5" text-anchor="middle" font-weight="normal" font-style="normal" fill="#1a1a1a" stroke="#1a1a1a" stroke-width="0.06" >S+/H+</text>
<line x1="82.1" y1="409.9" x2="124.0" y2="409.9" stroke="#222" stroke-width="1.6"/>
<text x="0" y="0" transform="translate(102.8,418.0) scale(0.87,1)" font-family="Liberation Serif" font-size="6.5" text-anchor="middle" font-weight="normal" font-style="normal" fill="#1a1a1a" stroke="#1a1a1a" stroke-width="0.06" >S– /H–</text>
<line x1="129.5" y1="409.9" x2="171.8" y2="409.9" stroke="#222" stroke-width="1.6"/>
<text x="0" y="0" transform="translate(150.7,418.0) scale(0.87,1)" font-family="Liberation Serif" font-size="6.5" text-anchor="middle" font-weight="normal" font-style="normal" fill="#1a1a1a" stroke="#1a1a1a" stroke-width="0.06" >S+ /H–</text>
<line x1="177.5" y1="409.9" x2="219.4" y2="409.9" stroke="#222" stroke-width="1.6"/>
<text x="0" y="0" transform="translate(197.9,418.0) scale(0.87,1)" font-family="Liberation Serif" font-size="6.5" text-anchor="middle" font-weight="normal" font-style="normal" fill="#1a1a1a" stroke="#1a1a1a" stroke-width="0.06" >S– /H+</text>
<text x="0" y="0" font-family="Liberation Sans" font-size="14.0" font-weight="bold" fill="#000" stroke="#000" stroke-width="0.3" transform="translate(268.4,226.5) scale(1.06,1)">D</text>
<polyline points="317.6,280.8 317.6,238.7 362.0,238.7 362.0,338.7" fill="none" stroke="#858585" stroke-width="1.0"/>
<text x="340" y="234.8" font-family="Liberation Serif" font-size="7.2" text-anchor="middle" font-weight="normal" font-style="normal" fill="#000" stroke="#000" stroke-width="0.2" >N.S.</text>
<polyline points="322.0,279.8 322.0,251.5 343.3,251.5 343.3,339.0" fill="none" stroke="#858585" stroke-width="1.0"/>
<circle cx="332" cy="246.3" r="1.4" fill="#111"/>
<polyline points="368.3,337.5 368.3,251.7 387.2,251.7 387.2,337.8" fill="none" stroke="#858585" stroke-width="1.0"/>
<text x="377.6" y="249.6" font-family="Liberation Serif" font-size="7.2" text-anchor="middle" font-weight="normal" font-style="normal" fill="#000" stroke="#000" stroke-width="0.2" >N.S.</text>
<polyline points="411.5,257.2 411.5,238.5 452.7,238.5 452.7,278.4" fill="none" stroke="#858585" stroke-width="1.0"/>
<text x="433" y="236.2" font-family="Liberation Serif" font-size="7.2" text-anchor="middle" font-weight="normal" font-style="normal" fill="#000" stroke="#000" stroke-width="0.2" >N.S.</text>
<polyline points="416.2,256.4 416.2,250.8 434.2,250.8 434.2,339.0" fill="none" stroke="#858585" stroke-width="1.0"/>
<circle cx="423.8" cy="245.8" r="1.4" fill="#111"/>
<polyline points="457.5,278.4 457.5,251.7 477.5,251.7 477.5,339.5" fill="none" stroke="#858585" stroke-width="1.0"/>
<text x="468.9" y="248.4" font-family="Liberation Serif" font-size="7.2" text-anchor="middle" font-weight="normal" font-style="normal" fill="#000" stroke="#000" stroke-width="0.2" >N.S.</text>
<circle cx="492.5" cy="241.9" r="1.4" fill="#111"/>
<text x="498.1" y="245.4" font-family="Liberation Serif" font-size="7.3" text-anchor="start" font-weight="normal" font-style="italic" fill="#000" stroke="#000" stroke-width="0.2" letter-spacing="0.2">P&lt;.02</text>
<line x1="320.5" y1="285.3" x2="320.5" y2="311.3" stroke="#1a1a1a" stroke-width="0.95"/>
<line x1="316.3" y1="285.3" x2="324.7" y2="285.3" stroke="#111" stroke-width="1.1"/>
<rect x="312.4" y="311.3" width="15.200000000000045" height="52.69999999999999" fill="#4a4a4a" stroke="#111" stroke-width="1.45"/>
<line x1="342.5" y1="357.8" x2="342.5" y2="360.5" stroke="#1a1a1a" stroke-width="0.95"/>
<line x1="338.3" y1="357.8" x2="346.7" y2="357.8" stroke="#111" stroke-width="1.1"/>
<rect x="335.6" y="360.5" width="14.799999999999955" height="3.5" fill="url(#chkL2)" stroke="#111" stroke-width="1.45"/>
<line x1="365.5" y1="353.2" x2="365.5" y2="357.4" stroke="#1a1a1a" stroke-width="0.95"/>
<line x1="361.3" y1="353.2" x2="369.7" y2="353.2" stroke="#111" stroke-width="1.1"/>
<rect x="358.2" y="357.4" width="15.400000000000034" height="6.600000000000023" fill="#858585" stroke="#111" stroke-width="1.45"/>
<line x1="388.5" y1="359.2" x2="388.5" y2="362.0" stroke="#1a1a1a" stroke-width="0.95"/>
<line x1="384.3" y1="359.2" x2="392.7" y2="359.2" stroke="#111" stroke-width="1.1"/>
<rect x="381.0" y="362.0" width="15.100000000000023" height="2.0" fill="#8a8a8a" stroke="#111" stroke-width="1.45"/>
<line x1="411.5" y1="261.6" x2="411.5" y2="271.3" stroke="#1a1a1a" stroke-width="0.95"/>
<line x1="407.3" y1="261.6" x2="415.7" y2="261.6" stroke="#111" stroke-width="1.1"/>
<rect x="403.6" y="271.3" width="15.199999999999989" height="92.69999999999999" fill="url(#gridD)" stroke="#111" stroke-width="1.45"/>
<rect x="426.3" y="360.3" width="15.5" height="3.6999999999999886" fill="#6e6e6e" stroke="#111" stroke-width="1.45"/>
<line x1="456.5" y1="298.1" x2="456.5" y2="333.7" stroke="#1a1a1a" stroke-width="0.95"/>
<line x1="452.3" y1="298.1" x2="460.7" y2="298.1" stroke="#111" stroke-width="1.1"/>
<rect x="449.4" y="333.7" width="15.200000000000045" height="30.30000000000001" fill="url(#gridL)" stroke="#111" stroke-width="1.45"/>
<line x1="479.5" y1="359.5" x2="479.5" y2="361.5" stroke="#1a1a1a" stroke-width="0.95"/>
<line x1="475.3" y1="359.5" x2="483.7" y2="359.5" stroke="#111" stroke-width="1.1"/>
<rect x="471.5" y="361.5" width="15.5" height="2.5" fill="#9c9c9c" stroke="#111" stroke-width="1.45"/>
<rect x="402" y="281.2" width="18" height="3.6999999999999886" fill="#fff"/>
<line x1="403.0" y1="281.0" x2="418.8" y2="281.0" stroke="#111" stroke-width="1.0"/>
<line x1="403.0" y1="285.2" x2="418.8" y2="285.2" stroke="#111" stroke-width="1.0"/>
<line x1="308.6" y1="258.6" x2="308.6" y2="281.3" stroke="#111" stroke-width="1.1"/>
<line x1="308.6" y1="284.0" x2="308.6" y2="364.0" stroke="#111" stroke-width="1.1"/>
<line x1="306.3" y1="264.6" x2="308.6" y2="264.6" stroke="#111" stroke-width="0.9"/>
<text x="0" y="0" font-family="Liberation Sans" font-size="4.6" font-weight="bold" text-anchor="end" fill="#222" stroke="#222" stroke-width="0.12" transform="translate(306.00,265.84) scale(1.0,0.75)">1250</text>
<line x1="306.3" y1="275.4" x2="308.6" y2="275.4" stroke="#111" stroke-width="0.9"/>
<text x="0" y="0" font-family="Liberation Sans" font-size="4.6" font-weight="bold" text-anchor="end" fill="#222" stroke="#222" stroke-width="0.12" transform="translate(306.00,276.64) scale(1.0,0.75)">750</text>
<line x1="306.3" y1="285.2" x2="308.6" y2="285.2" stroke="#111" stroke-width="0.9"/>
<text x="0" y="0" font-family="Liberation Sans" font-size="4.6" font-weight="bold" text-anchor="end" fill="#222" stroke="#222" stroke-width="0.12" transform="translate(306.00,286.44) scale(1.0,0.75)">500</text>
<line x1="306.3" y1="300.9" x2="308.6" y2="300.9" stroke="#111" stroke-width="0.9"/>
<text x="0" y="0" font-family="Liberation Sans" font-size="4.6" font-weight="bold" text-anchor="end" fill="#222" stroke="#222" stroke-width="0.12" transform="translate(306.00,302.14) scale(1.0,0.75)">400</text>
<line x1="306.3" y1="316.7" x2="308.6" y2="316.7" stroke="#111" stroke-width="0.9"/>
<text x="0" y="0" font-family="Liberation Sans" font-size="4.6" font-weight="bold" text-anchor="end" fill="#222" stroke="#222" stroke-width="0.12" transform="translate(306.00,317.94) scale(1.0,0.75)">300</text>
<line x1="306.3" y1="332.5" x2="308.6" y2="332.5" stroke="#111" stroke-width="0.9"/>
<text x="0" y="0" font-family="Liberation Sans" font-size="4.6" font-weight="bold" text-anchor="end" fill="#222" stroke="#222" stroke-width="0.12" transform="translate(306.00,333.74) scale(1.0,0.75)">200</text>
<line x1="306.3" y1="348.2" x2="308.6" y2="348.2" stroke="#111" stroke-width="0.9"/>
<text x="0" y="0" font-family="Liberation Sans" font-size="4.6" font-weight="bold" text-anchor="end" fill="#222" stroke="#222" stroke-width="0.12" transform="translate(306.00,349.44) scale(1.0,0.75)">100</text>
<line x1="306.3" y1="364.0" x2="308.6" y2="364.0" stroke="#111" stroke-width="0.9"/>
<text x="0" y="0" font-family="Liberation Sans" font-size="4.6" font-weight="bold" text-anchor="end" fill="#222" stroke="#222" stroke-width="0.12" transform="translate(306.00,365.24) scale(1.0,0.75)">0</text>
<line x1="306.5" y1="281.3" x2="308.6" y2="281.3" stroke="#111" stroke-width="0.9"/>
<line x1="308.6" y1="364.0" x2="491" y2="364.0" stroke="#111" stroke-width="1.2"/>
<text x="0" y="0" font-family="Liberation Serif" font-size="7.1" text-anchor="middle" fill="#111" stroke="#111" stroke-width="0.2" transform="translate(274.6,293.0) rotate(-90) scale(1,1.1)">Titer of anti-Gal IgG</text>
<text x="0" y="0" transform="translate(291.2,372.5) scale(0.87,1)" font-family="Liberation Serif" font-size="6.5" text-anchor="middle" font-weight="normal" font-style="normal" fill="#1a1a1a" stroke="#1a1a1a" stroke-width="0.06" >Group</text>
<text x="0" y="0" transform="translate(291.2,382.8) scale(0.87,1)" font-family="Liberation Serif" font-size="6.5" text-anchor="middle" font-weight="normal" font-style="normal" fill="#1a1a1a" stroke="#1a1a1a" stroke-width="0.06" >Stroma</text>
<text x="0" y="0" transform="translate(291.2,393.8) scale(0.87,1)" font-family="Liberation Serif" font-size="6.5" text-anchor="middle" font-weight="normal" font-style="normal" fill="#1a1a1a" stroke="#1a1a1a" stroke-width="0.06" >BMC</text>
<text x="0" y="0" transform="translate(291.2,404.1) scale(0.87,1)" font-family="Liberation Serif" font-size="6.5" text-anchor="middle" font-weight="normal" font-style="normal" fill="#1a1a1a" stroke="#1a1a1a" stroke-width="0.06" >Balb/c BMT</text>
<text x="0" y="0" transform="translate(319.4,372.5) scale(0.87,1)" font-family="Liberation Serif" font-size="6.5" text-anchor="middle" font-weight="normal" font-style="normal" fill="#1a1a1a" stroke="#1a1a1a" stroke-width="0.06" >1</text>
<text x="0" y="0" transform="translate(342.1,372.5) scale(0.87,1)" font-family="Liberation Serif" font-size="6.5" text-anchor="middle" font-weight="normal" font-style="normal" fill="#1a1a1a" stroke="#1a1a1a" stroke-width="0.06" >2</text>
<text x="0" y="0" transform="translate(365.2,372.5) scale(0.87,1)" font-family="Liberation Serif" font-size="6.5" text-anchor="middle" font-weight="normal" font-style="normal" fill="#1a1a1a" stroke="#1a1a1a" stroke-width="0.06" >3</text>
<text x="0" y="0" transform="translate(388.1,372.5) scale(0.87,1)" font-family="Liberation Serif" font-size="6.5" text-anchor="middle" font-weight="normal" font-style="normal" fill="#1a1a1a" stroke="#1a1a1a" stroke-width="0.06" >4</text>
<text x="0" y="0" transform="translate(411.3,372.5) scale(0.87,1)" font-family="Liberation Serif" font-size="6.5" text-anchor="middle" font-weight="normal" font-style="normal" fill="#1a1a1a" stroke="#1a1a1a" stroke-width="0.06" >5</text>
<text x="0" y="0" transform="translate(434.4,372.5) scale(0.87,1)" font-family="Liberation Serif" font-size="6.5" text-anchor="middle" font-weight="normal" font-style="normal" fill="#1a1a1a" stroke="#1a1a1a" stroke-width="0.06" >6</text>
<text x="0" y="0" transform="translate(456.9,372.5) scale(0.87,1)" font-family="Liberation Serif" font-size="6.5" text-anchor="middle" font-weight="normal" font-style="normal" fill="#1a1a1a" stroke="#1a1a1a" stroke-width="0.06" >7</text>
<text x="0" y="0" transform="translate(480.0,372.5) scale(0.87,1)" font-family="Liberation Serif" font-size="6.5" text-anchor="middle" font-weight="normal" font-style="normal" fill="#1a1a1a" stroke="#1a1a1a" stroke-width="0.06" >8</text>
<line x1="318.09999999999997" y1="381.2" x2="320.7" y2="381.2" stroke="#444" stroke-width="0.65"/>
<line x1="319.4" y1="379.9" x2="319.4" y2="382.5" stroke="#444" stroke-width="0.65"/>
<line x1="340.8" y1="381.2" x2="343.40000000000003" y2="381.2" stroke="#444" stroke-width="0.65"/>
<line x1="342.1" y1="379.9" x2="342.1" y2="382.5" stroke="#444" stroke-width="0.65"/>
<line x1="363.5" y1="381.2" x2="366.9" y2="381.2" stroke="#444" stroke-width="0.75"/>
<line x1="386.40000000000003" y1="381.2" x2="389.8" y2="381.2" stroke="#444" stroke-width="0.75"/>
<line x1="410.0" y1="381.2" x2="412.6" y2="381.2" stroke="#444" stroke-width="0.65"/>
<line x1="411.3" y1="379.9" x2="411.3" y2="382.5" stroke="#444" stroke-width="0.65"/>
<line x1="433.09999999999997" y1="381.2" x2="435.7" y2="381.2" stroke="#444" stroke-width="0.65"/>
<line x1="434.4" y1="379.9" x2="434.4" y2="382.5" stroke="#444" stroke-width="0.65"/>
<line x1="455.2" y1="381.2" x2="458.59999999999997" y2="381.2" stroke="#444" stroke-width="0.75"/>
<line x1="478.3" y1="381.2" x2="481.7" y2="381.2" stroke="#444" stroke-width="0.75"/>
<line x1="318.09999999999997" y1="392.2" x2="320.7" y2="392.2" stroke="#444" stroke-width="0.65"/>
<line x1="319.4" y1="390.9" x2="319.4" y2="393.5" stroke="#444" stroke-width="0.65"/>
<line x1="340.8" y1="392.2" x2="343.40000000000003" y2="392.2" stroke="#444" stroke-width="0.65"/>
<line x1="342.1" y1="390.9" x2="342.1" y2="393.5" stroke="#444" stroke-width="0.65"/>
<line x1="363.5" y1="392.2" x2="366.9" y2="392.2" stroke="#444" stroke-width="0.75"/>
<line x1="386.40000000000003" y1="392.2" x2="389.8" y2="392.2" stroke="#444" stroke-width="0.75"/>
<line x1="409.6" y1="392.2" x2="413.0" y2="392.2" stroke="#444" stroke-width="0.75"/>
<line x1="432.7" y1="392.2" x2="436.09999999999997" y2="392.2" stroke="#444" stroke-width="0.75"/>
<line x1="455.59999999999997" y1="392.2" x2="458.2" y2="392.2" stroke="#444" stroke-width="0.65"/>
<line x1="456.9" y1="390.9" x2="456.9" y2="393.5" stroke="#444" stroke-width="0.65"/>
<line x1="478.7" y1="392.2" x2="481.3" y2="392.2" stroke="#444" stroke-width="0.65"/>
<line x1="480.0" y1="390.9" x2="480.0" y2="393.5" stroke="#444" stroke-width="0.65"/>
<line x1="317.7" y1="402.8" x2="321.09999999999997" y2="402.8" stroke="#444" stroke-width="0.75"/>
<line x1="340.8" y1="402.8" x2="343.40000000000003" y2="402.8" stroke="#444" stroke-width="0.65"/>
<line x1="342.1" y1="401.5" x2="342.1" y2="404.1" stroke="#444" stroke-width="0.65"/>
<line x1="363.5" y1="402.8" x2="366.9" y2="402.8" stroke="#444" stroke-width="0.75"/>
<line x1="386.8" y1="402.8" x2="389.40000000000003" y2="402.8" stroke="#444" stroke-width="0.65"/>
<line x1="388.1" y1="401.5" x2="388.1" y2="404.1" stroke="#444" stroke-width="0.65"/>
<line x1="409.6" y1="402.8" x2="413.0" y2="402.8" stroke="#444" stroke-width="0.75"/>
<line x1="433.09999999999997" y1="402.8" x2="435.7" y2="402.8" stroke="#444" stroke-width="0.65"/>
<line x1="434.4" y1="401.5" x2="434.4" y2="404.1" stroke="#444" stroke-width="0.65"/>
<line x1="455.2" y1="402.8" x2="458.59999999999997" y2="402.8" stroke="#444" stroke-width="0.75"/>
<line x1="478.7" y1="402.8" x2="481.3" y2="402.8" stroke="#444" stroke-width="0.65"/>
<line x1="480.0" y1="401.5" x2="480.0" y2="404.1" stroke="#444" stroke-width="0.65"/>
<line x1="307.9" y1="409.6" x2="351.7" y2="409.6" stroke="#222" stroke-width="1.6"/>
<text x="0" y="0" transform="translate(330.0,417.1) scale(0.87,1)" font-family="Liberation Serif" font-size="6.5" text-anchor="middle" font-weight="normal" font-style="normal" fill="#1a1a1a" stroke="#1a1a1a" stroke-width="0.06" >S+/H+</text>
<line x1="356.9" y1="409.6" x2="396.9" y2="409.6" stroke="#222" stroke-width="1.6"/>
<text x="0" y="0" transform="translate(376.2,417.1) scale(0.87,1)" font-family="Liberation Serif" font-size="6.5" text-anchor="middle" font-weight="normal" font-style="normal" fill="#1a1a1a" stroke="#1a1a1a" stroke-width="0.06" >S– /H–</text>
<line x1="401.7" y1="409.6" x2="442.1" y2="409.6" stroke="#222" stroke-width="1.6"/>
<text x="0" y="0" transform="translate(421.9,417.1) scale(0.87,1)" font-family="Liberation Serif" font-size="6.5" text-anchor="middle" font-weight="normal" font-style="normal" fill="#1a1a1a" stroke="#1a1a1a" stroke-width="0.06" >S+ /H–</text>
<line x1="447.3" y1="409.6" x2="487.3" y2="409.6" stroke="#222" stroke-width="1.6"/>
<text x="0" y="0" transform="translate(465.2,417.1) scale(0.87,1)" font-family="Liberation Serif" font-size="6.5" text-anchor="middle" font-weight="normal" font-style="normal" fill="#1a1a1a" stroke="#1a1a1a" stroke-width="0.06" >S– /H+</text>
</svg>
</body></html>
